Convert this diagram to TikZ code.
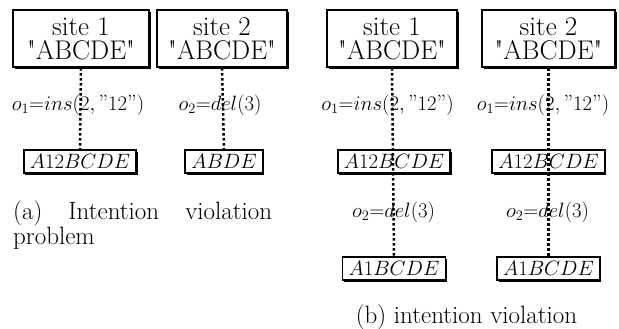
\documentclass[tikz,border=0pt]{standalone}
\usepackage{amsmath}
\usetikzlibrary{positioning,shadows}

\newcommand{\qq}{\textquotedbl}

\tikzset{
  sitebox/.style={draw, line width=2.4pt, fill=white, align=center,
    minimum height=57pt, inner xsep=2pt,
    font=\fontsize{27}{24}\selectfont,
    general shadow={fill=black, shadow xshift=2pt, shadow yshift=-2pt}},
  statebox/.style={draw, line width=1.7pt, fill=white,
    minimum height=23pt, inner xsep=6pt, inner ysep=0pt,
    font=\fontsize{20}{24}\selectfont,
    general shadow={fill=black, shadow xshift=1.5pt, shadow yshift=-1.5pt}},
  oplabel/.style={font=\fontsize{22}{24}\selectfont, inner sep=0pt},
  trace/.style={line width=2.5pt, dash pattern=on 2.5pt off 2.5pt},
  capt/.style={font=\fontsize{25}{25}\selectfont, inner sep=0pt}
}

\begin{document}
\begin{tikzpicture}[x=1pt, y=-1pt]
  \useasboundingbox (0,0) rectangle (619,329);

  % (a) intention violation problem
  \node[sitebox, minimum width=136pt] (sa1) at (81,38.5) {site 1\\\qq ABCDE\qq};
  \node[sitebox, minimum width=130pt] (sa2) at (222,38.5) {site 2\\\qq ABCDE\qq};
  \node[oplabel] (opa1) at (78,105) {$o_1{=}ins(2,\text{''}12\text{''})$};
  \node[oplabel] (opa2) at (220,105) {$o_2{=}del(3)$};
  \node[statebox] (ra1) at (80,161.5) {$A12BCDE$};
  \node[statebox] (ra2) at (224,161.5) {$ABDE$};
  \draw[trace] (sa1.south) -- (ra1.north);
  \draw[trace] (sa2.south) -- (ra2.north);
  \node[capt, text width=259pt, align=justify, anchor=north west] (capa) at (13,201)
    {(a) Intention violation \mbox{problem}};

  % (b) intention violation
  \node[sitebox, minimum width=130pt] (sb1) at (392,38.5) {site 1\\\qq ABCDE\qq};
  \node[sitebox, minimum width=133pt] (sb2) at (548.5,38.5) {site 2\\\qq ABCDE\qq};
  \node[oplabel] (opb1) at (387.5,105) {$o_1{=}ins(2,\text{''}12\text{''})$};
  \node[oplabel] (opb2) at (543,105) {$o_1{=}ins(2,\text{''}12\text{''})$};
  \node[statebox] (mb1) at (394,161.5) {$A12BCDE$};
  \node[statebox] (mb2) at (548.5,161.5) {$A12BCDE$};
  \node[oplabel] (opb3) at (393.5,212) {$o_2{=}del(3)$};
  \node[oplabel] (opb4) at (547.5,212) {$o_2{=}del(3)$};
  \node[statebox] (rb1) at (394,268.5) {$A1BCDE$};
  \node[statebox] (rb2) at (548.5,268.5) {$A1BCDE$};
  \draw[trace] (sb1.south) -- (rb1.north);
  \draw[trace] (sb2.south) -- (rb2.north);
  \node[capt] (capb) at (466.5,317) {(b) intention violation};
\end{tikzpicture}
\end{document}
